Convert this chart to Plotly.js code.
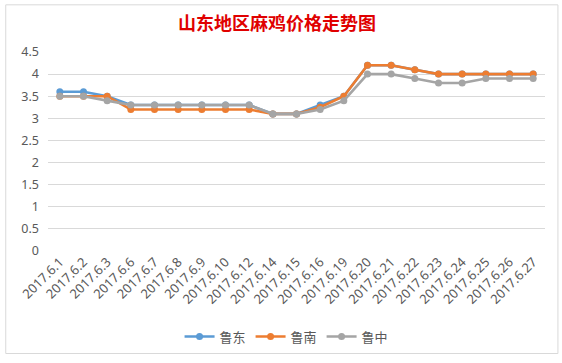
<!DOCTYPE html>
<html>
<head>
<meta charset="utf-8">
<script src="https://cdn.plot.ly/plotly-3.0.1.min.js"></script>
<style>
html,body{margin:0;padding:0;background:#fff;}
#chart{width:562px;height:363px;}
</style>
</head>
<body>
<div id="chart"></div>
<script>
const categories = ["2017.6.1","2017.6.2","2017.6.3","2017.6.6","2017.6.7","2017.6.8","2017.6.9","2017.6.10","2017.6.12","2017.6.14","2017.6.15","2017.6.16","2017.6.19","2017.6.20","2017.6.21","2017.6.22","2017.6.23","2017.6.24","2017.6.25","2017.6.26","2017.6.27"];
const ludong = [3.6,3.6,3.5,3.3,3.3,3.3,3.3,3.3,3.3,3.1,3.1,3.3,3.5,4.2,4.2,4.1,4.0,4.0,4.0,4.0,4.0];
const lunan  = [3.5,3.5,3.5,3.2,3.2,3.2,3.2,3.2,3.2,3.1,3.1,3.25,3.5,4.2,4.2,4.1,4.0,4.0,4.0,4.0,4.0];
const luzhong= [3.5,3.5,3.4,3.3,3.3,3.3,3.3,3.3,3.3,3.1,3.1,3.2,3.4,4.0,4.0,3.9,3.8,3.8,3.9,3.9,3.9];
const seriesNames = ["鲁东","鲁南","鲁中"];
const colors = ["#5B9BD5","#ED7D31","#A5A5A5"];
const yTicks = [0,0.5,1,1.5,2,2.5,3,3.5,4,4.5];

const data = [ludong, lunan, luzhong].map((v,i)=>({
  type:"scatter", mode:"lines+markers", x:categories, y:v, name:seriesNames[i],
  line:{color:colors[i], width:2.6}, marker:{color:colors[i], size:7}
}));

const layout = {
  width:562, height:363,
  paper_bgcolor:"#fff", plot_bgcolor:"#fff",
  font:{family:"'Noto Sans CJK SC', 'DejaVu Sans', sans-serif", color:"#595959", size:11},
  title:{text:"山东地区麻鸡价格走势图", x:0.493, xanchor:"center", y:0.935, yanchor:"middle",
         font:{family:"'Noto Sans CJK SC', sans-serif", size:18, color:"#E00000", weight:"bold"}},
  margin:{l:48, r:17, t:52, b:108},
  xaxis:{type:"category", range:[-0.5,20.5], tickangle:-45, showgrid:false, zeroline:false,
         showline:false, ticks:"", tickfont:{size:13, color:"#595959", family:"'Noto Sans', 'DejaVu Sans', sans-serif"}},
  yaxis:{range:[0,4.5], tickvals:yTicks, ticktext:yTicks.map(String), showgrid:true, gridcolor:"#D9D9D9",
         gridwidth:1, zeroline:false, showline:false, ticks:"", ticklen:0, ticklabelstandoff:8,
         tickfont:{size:12.5, color:"#595959", family:"'Noto Sans', 'DejaVu Sans', sans-serif"}},
  showlegend:true,
  legend:{orientation:"h", x:0.48, xanchor:"center", y:-0.43, yanchor:"middle",
          font:{size:13, color:"#595959"}, itemwidth:30, tracegroupgap:0},
  shapes:[{type:"rect", xref:"paper", yref:"paper", x0:-0.085, x1:1.026, y0:-0.515, y1:1.237,
           line:{color:"#D9D9D9", width:1}}]
};
Plotly.newPlot("chart", data, layout, {displayModeBar:false, staticPlot:true});
</script>
</body>
</html>
